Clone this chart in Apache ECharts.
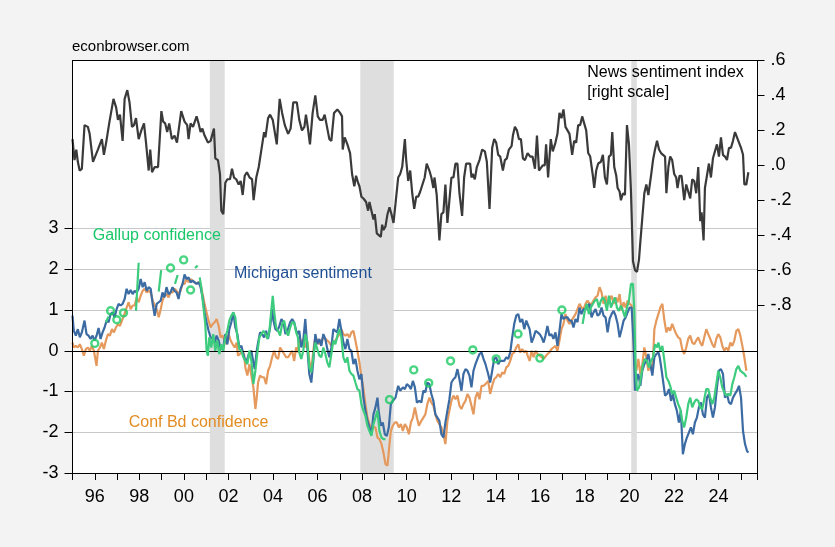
<!DOCTYPE html>
<html><head><meta charset="utf-8">
<script src="https://cdn.jsdelivr.net/npm/echarts/dist/echarts.min.js"></script>
<style>html,body{margin:0;padding:0;background:#f3f3f3;}#c{width:835px;height:547px;}</style>
</head><body><div id="c"></div>
<script>
// ---- data (decimal year, value) ----
const recessions = [[2001.167, 2001.833], [2007.917, 2009.42], [2020.083, 2020.333]];

const newsSentiment = [
[1995.0,0.15],[1995.09,0.03],[1995.17,0.09],[1995.24,0.02],[1995.32,-0.03],[1995.42,-0.02],[1995.54,0.23],[1995.69,0.22],[1995.77,0.18],[1995.92,0.02],[1996.14,0.09],[1996.32,0.15],[1996.41,0.06],[1996.51,0.13],[1996.66,0.25],[1996.74,0.24],[1996.84,0.38],[1996.96,0.33],[1997.04,0.26],[1997.13,0.29],[1997.25,0.14],[1997.34,0.38],[1997.46,0.43],[1997.56,0.36],[1997.67,0.22],[1997.76,0.23],[1997.85,0.27],[1997.97,0.15],[1998.09,0.20],[1998.21,0.24],[1998.30,0.13],[1998.42,-0.03],[1998.49,0.09],[1998.57,-0.04],[1998.69,-0.01],[1998.84,-0.01],[1998.99,0.31],[1999.07,0.25],[1999.16,0.24],[1999.25,0.19],[1999.34,0.24],[1999.46,0.15],[1999.58,0.17],[1999.69,0.13],[1999.88,0.31],[2000.03,0.25],[2000.15,0.23],[2000.21,0.15],[2000.30,0.24],[2000.41,0.22],[2000.48,0.23],[2000.57,0.28],[2000.66,0.24],[2000.75,0.19],[2000.83,0.21],[2000.93,0.17],[2001.08,0.13],[2001.20,0.14],[2001.35,0.21],[2001.41,0.04],[2001.53,0.03],[2001.62,-0.05],[2001.68,-0.26],[2001.77,-0.28],[2001.86,-0.10],[2001.95,-0.08],[2002.07,-0.08],[2002.16,-0.02],[2002.25,-0.07],[2002.35,-0.08],[2002.46,-0.11],[2002.55,-0.09],[2002.64,-0.17],[2002.73,-0.06],[2002.83,-0.04],[2002.95,-0.07],[2003.06,-0.08],[2003.13,-0.20],[2003.25,-0.07],[2003.36,-0.01],[2003.48,0.09],[2003.60,0.19],[2003.66,0.16],[2003.78,0.27],[2003.87,0.29],[2003.99,0.26],[2004.08,0.19],[2004.17,0.12],[2004.30,0.38],[2004.41,0.30],[2004.53,0.23],[2004.68,0.18],[2004.79,0.21],[2004.91,0.36],[2005.07,0.36],
[2005.18,0.26],[2005.30,0.20],[2005.41,0.22],[2005.48,0.29],[2005.56,0.22],[2005.66,0.12],[2005.78,0.30],[2005.90,0.40],[2006.01,0.28],[2006.11,0.26],[2006.23,0.26],[2006.32,0.29],[2006.41,0.23],[2006.53,0.15],[2006.62,0.14],[2006.74,0.30],[2006.89,0.32],[2007.01,0.30],[2007.10,0.28],[2007.13,0.09],[2007.22,0.16],[2007.34,0.12],[2007.46,0.07],[2007.55,-0.05],[2007.65,-0.12],[2007.73,-0.06],[2007.82,-0.10],[2007.88,-0.12],[2007.97,-0.18],[2008.06,-0.19],[2008.18,-0.21],[2008.27,-0.26],[2008.33,-0.21],[2008.42,-0.26],[2008.51,-0.31],[2008.57,-0.28],[2008.66,-0.39],[2008.75,-0.40],[2008.84,-0.41],[2008.90,-0.34],[2008.96,-0.37],[2009.05,-0.35],[2009.14,-0.28],[2009.23,-0.24],[2009.32,-0.28],[2009.41,-0.33],[2009.50,-0.22],[2009.62,-0.07],[2009.71,-0.05],[2009.80,-0.01],[2009.92,0.15],[2009.98,0.03],[2010.07,-0.09],[2010.16,-0.03],[2010.25,-0.16],[2010.34,-0.25],[2010.43,-0.18],[2010.52,-0.18],[2010.61,-0.15],[2010.69,-0.14],[2010.81,-0.07],[2010.90,0.01],[2011.02,-0.03],[2011.11,-0.07],[2011.20,-0.13],[2011.25,-0.07],[2011.35,-0.17],[2011.47,-0.43],[2011.56,-0.28],[2011.65,-0.27],[2011.74,-0.11],[2011.83,-0.33],[2011.92,-0.20],[2012.01,-0.07],[2012.10,-0.07],[2012.19,0.01],[2012.28,0.01],[2012.37,-0.16],[2012.49,-0.29],[2012.58,-0.07],[2012.67,0.01],[2012.76,0.01],[2012.85,0.01],[2012.91,-0.07],[2012.97,-0.05],[2013.06,-0.08],[2013.15,-0.01],[2013.27,0.03],[2013.39,0.09],[2013.51,0.08],[2013.60,0.02],[2013.72,-0.25],[2013.84,0.10],[2013.93,0.15],[2014.02,0.13],[2014.11,0.06],[2014.20,0.05],[2014.32,-0.03],[2014.41,0.03],[2014.50,0.04],[2014.59,0.09],[2014.71,0.11],[2014.77,0.17],[2014.86,0.22],[2014.95,0.20],[2015.04,0.15],[2015.13,0.15],[2015.22,0.04],[2015.31,0.03],
[2015.43,0.07],[2015.55,0.05],[2015.65,0.05],[2015.76,-0.02],[2015.85,0.17],[2015.94,-0.03],[2016.02,-0.02],[2016.11,0.00],[2016.20,0.00],[2016.26,0.12],[2016.35,-0.07],[2016.47,0.15],[2016.56,0.08],[2016.68,0.13],[2016.77,0.18],[2016.86,0.30],[2016.95,0.27],[2017.04,0.32],[2017.13,0.22],[2017.22,0.20],[2017.31,0.18],[2017.43,0.06],[2017.52,0.14],[2017.61,0.13],[2017.70,0.23],[2017.79,0.23],[2017.88,0.28],[2017.97,0.24],[2018.06,0.20],[2018.15,0.07],[2018.24,0.05],[2018.36,-0.06],[2018.42,-0.13],[2018.51,-0.03],[2018.60,0.01],[2018.72,0.02],[2018.81,0.06],[2018.90,-0.07],[2018.99,-0.11],[2019.08,0.05],[2019.17,0.06],[2019.23,0.19],[2019.32,-0.01],[2019.41,-0.06],[2019.47,-0.13],[2019.56,-0.15],[2019.62,-0.20],[2019.71,-0.16],[2019.80,-0.17],[2019.89,0.23],[2019.98,0.12],[2020.07,-0.15],[2020.16,-0.55],[2020.25,-0.60],[2020.34,-0.61],[2020.43,-0.54],[2020.49,-0.44],[2020.58,-0.30],[2020.67,-0.16],[2020.76,-0.11],[2020.85,-0.17],[2020.97,-0.06],[2021.06,0.03],[2021.15,0.09],[2021.24,0.14],[2021.33,0.09],[2021.42,0.07],[2021.51,0.06],[2021.60,0.05],[2021.66,-0.16],[2021.75,-0.01],[2021.83,0.05],[2021.92,0.03],[2022.01,-0.05],[2022.10,-0.07],[2022.16,-0.13],[2022.25,-0.06],[2022.34,-0.06],[2022.40,-0.13],[2022.46,-0.20],[2022.55,-0.11],[2022.64,-0.15],[2022.73,-0.19],[2022.82,-0.08],[2022.91,-0.09],[2023.00,-0.16],[2023.09,-0.01],[2023.18,-0.32],[2023.24,-0.27],[2023.33,-0.43],[2023.39,-0.13],[2023.48,-0.06],[2023.57,0.01],[2023.66,-0.07],[2023.75,0.04],[2023.84,0.08],[2023.93,0.12],[2024.02,0.05],[2024.11,0.16],[2024.20,0.06],[2024.29,0.05],[2024.38,0.03],[2024.47,0.10],[2024.56,0.10],[2024.65,0.14],[2024.74,0.19],[2024.83,0.16],[2024.92,0.13],[2025.01,0.10],[2025.10,0.06],[2025.16,-0.11],[2025.25,-0.11],[2025.34,-0.04]
];

const michigan = [
[1995.0,0.86],[1995.06,0.49],[1995.15,0.37],[1995.24,0.53],[1995.33,0.33],[1995.42,0.45],[1995.54,0.74],[1995.63,0.41],[1995.72,0.37],[1995.81,0.29],[1995.90,0.37],[1995.99,0.25],[1996.08,0.37],[1996.17,0.56],[1996.26,0.29],[1996.35,0.45],[1996.44,0.57],[1996.53,0.74],[1996.62,0.70],[1996.71,0.90],[1996.80,0.94],[1996.89,0.82],[1996.98,1.02],[1997.07,1.15],[1997.16,1.11],[1997.25,1.15],[1997.34,1.27],[1997.43,1.52],[1997.52,1.39],[1997.61,1.49],[1997.70,1.39],[1997.79,1.47],[1997.88,1.43],[1997.97,1.52],[1998.06,1.76],[1998.15,1.56],[1998.24,1.68],[1998.33,1.47],[1998.42,1.56],[1998.51,1.52],[1998.60,1.15],[1998.69,0.86],[1998.78,1.15],[1998.87,1.19],[1998.96,1.23],[1999.04,1.43],[1999.13,1.31],[1999.22,1.56],[1999.31,1.39],[1999.40,1.43],[1999.49,1.56],[1999.58,1.47],[1999.67,1.43],[1999.76,1.27],[1999.85,1.52],[1999.94,1.64],[2000.03,1.87],[2000.12,1.76],[2000.21,1.80],[2000.30,1.68],[2000.39,1.72],[2000.48,1.68],[2000.57,1.64],[2000.66,1.68],[2000.75,1.56],[2000.84,1.31],[2000.93,0.94],[2001.02,0.70],[2001.11,0.49],[2001.20,0.33],[2001.29,0.29],[2001.38,0.20],[2001.47,0.37],[2001.56,0.25],[2001.65,0.04],[2001.77,0.08],[2001.86,0.41],[2001.95,0.16],[2002.04,0.53],[2002.13,0.70],[2002.22,0.94],[2002.31,0.57],[2002.40,0.41],[2002.49,0.08],[2002.58,0.12],[2002.67,-0.08],[2002.76,-0.25],[2002.85,-0.20],[2002.94,-0.04],[2003.03,0.00],[2003.12,-0.29],[2003.18,-0.45],[2003.27,0.00],[2003.33,0.20],[2003.42,0.45],[2003.51,0.41],[2003.60,0.33],[2003.69,0.49],[2003.78,0.29],[2003.87,0.57],[2003.96,1.02],[2004.02,0.74],[2004.11,0.53],[2004.20,0.49],[2004.29,0.61],[2004.38,0.78],[2004.47,0.70],[2004.56,0.41],[2004.65,0.49],[2004.77,0.70],[2004.86,0.78],[2004.95,0.70],[2005.04,0.49],[2005.12,0.41],
[2005.18,0.49],[2005.27,0.08],[2005.36,0.25],[2005.45,0.78],[2005.54,0.08],[2005.63,-0.57],[2005.72,-0.78],[2005.81,-0.25],[2005.90,0.41],[2005.99,0.16],[2006.08,0.29],[2006.17,0.12],[2006.26,0.41],[2006.35,0.29],[2006.44,0.04],[2006.53,-0.16],[2006.62,0.08],[2006.71,0.53],[2006.80,0.49],[2006.89,0.45],[2006.98,0.78],[2007.07,0.49],[2007.16,0.20],[2007.25,0.04],[2007.34,0.29],[2007.43,0.04],[2007.52,0.00],[2007.61,-0.33],[2007.70,-0.20],[2007.79,-0.49],[2007.88,-0.70],[2007.97,-0.57],[2008.06,-1.15],[2008.15,-1.47],[2008.24,-1.72],[2008.33,-1.88],[2008.42,-2.05],[2008.51,-1.56],[2008.60,-1.39],[2008.69,-1.15],[2008.75,-1.51],[2008.84,-1.84],[2008.93,-1.76],[2009.02,-2.05],[2009.11,-2.09],[2009.20,-1.88],[2009.29,-1.31],[2009.38,-1.23],[2009.50,-1.15],[2009.62,-0.86],[2009.71,-0.98],[2009.83,-0.90],[2009.92,-0.94],[2010.01,-0.82],[2010.10,-0.86],[2010.19,-0.94],[2010.28,-0.74],[2010.37,-0.90],[2010.46,-1.27],[2010.57,-1.23],[2010.66,-1.27],[2010.75,-0.98],[2010.84,-1.02],[2010.93,-0.78],[2011.02,-0.82],[2011.11,-1.06],[2011.20,-1.23],[2011.29,-1.56],[2011.38,-1.64],[2011.47,-1.72],[2011.56,-2.05],[2011.65,-2.13],[2011.74,-1.76],[2011.83,-1.47],[2011.92,-1.19],[2012.01,-0.78],[2012.10,-0.70],[2012.19,-0.65],[2012.28,-0.45],[2012.37,-0.70],[2012.46,-0.98],[2012.55,-0.57],[2012.64,-0.45],[2012.73,-0.49],[2012.82,-0.61],[2012.91,-0.90],[2013.00,-0.49],[2013.09,-0.33],[2013.18,-0.20],[2013.27,-0.08],[2013.36,-0.04],[2013.45,-0.20],[2013.54,-0.33],[2013.66,-0.57],[2013.75,-0.78],[2013.84,-0.49],[2013.93,-0.20],[2014.02,-0.16],[2014.11,-0.33],[2014.20,-0.25],[2014.29,-0.25],[2014.38,-0.25],[2014.47,-0.16],[2014.56,-0.20],[2014.65,-0.04],[2014.74,0.33],[2014.83,0.66],[2014.92,0.86],[2015.01,0.90],[2015.10,0.70],[2015.19,0.78],[2015.28,0.53],[2015.37,0.74],
[2015.43,0.74],[2015.52,0.53],[2015.61,0.20],[2015.70,0.33],[2015.79,0.49],[2015.88,0.45],[2015.97,0.41],[2016.06,0.33],[2016.15,0.20],[2016.23,0.37],[2016.32,0.61],[2016.41,0.37],[2016.50,0.41],[2016.59,0.29],[2016.68,0.45],[2016.77,0.12],[2016.86,0.49],[2016.95,0.90],[2017.04,0.78],[2017.13,0.82],[2017.22,0.82],[2017.31,0.74],[2017.40,0.74],[2017.49,0.57],[2017.58,0.78],[2017.67,0.70],[2017.76,1.06],[2017.85,0.90],[2017.94,1.02],[2018.03,1.02],[2018.12,1.06],[2018.21,1.15],[2018.30,0.82],[2018.39,0.94],[2018.48,1.02],[2018.57,0.86],[2018.66,0.90],[2018.75,1.06],[2018.84,0.86],[2018.93,0.82],[2019.02,0.45],[2019.11,0.78],[2019.20,0.90],[2019.29,0.98],[2019.38,0.86],[2019.47,0.66],[2019.56,0.33],[2019.65,0.53],[2019.74,0.74],[2019.83,0.82],[2019.92,0.94],[2020.01,1.06],[2020.10,1.06],[2020.19,0.16],[2020.25,-0.98],[2020.31,-0.74],[2020.40,-0.57],[2020.49,-0.86],[2020.58,-0.49],[2020.67,-0.33],[2020.76,-0.25],[2020.85,-0.08],[2020.94,-0.33],[2021.03,-0.61],[2021.12,-0.16],[2021.21,-0.08],[2021.30,-0.04],[2021.36,-0.16],[2021.45,-0.49],[2021.51,-0.74],[2021.60,-1.10],[2021.69,-1.06],[2021.78,-0.94],[2021.87,-1.23],[2021.95,-1.06],[2022.04,-1.31],[2022.13,-1.47],[2022.22,-1.76],[2022.31,-1.47],[2022.40,-2.54],[2022.49,-2.29],[2022.58,-2.13],[2022.67,-2.01],[2022.76,-1.88],[2022.85,-2.05],[2022.94,-1.76],[2023.03,-1.64],[2023.12,-1.39],[2023.21,-1.27],[2023.30,-1.56],[2023.39,-1.64],[2023.48,-1.15],[2023.57,-1.06],[2023.66,-1.39],[2023.75,-1.64],[2023.84,-1.39],[2023.93,-0.90],[2024.02,-0.49],[2024.11,-0.45],[2024.20,-0.57],[2024.29,-1.15],[2024.38,-1.06],[2024.47,-1.27],[2024.56,-1.31],[2024.65,-1.15],[2024.74,-1.06],[2024.83,-0.98],[2024.92,-0.86],[2025.01,-1.15],[2025.10,-1.97],[2025.19,-2.29],[2025.28,-2.46],[2025.34,-2.50]
];

const confBoard = [
[1995.0,0.20],[1995.06,0.08],[1995.15,0.12],[1995.24,0.08],[1995.33,0.16],[1995.42,0.04],[1995.51,-0.12],[1995.60,0.04],[1995.69,0.08],[1995.78,0.00],[1995.87,0.12],[1995.96,0.00],[1996.02,-0.04],[1996.08,-0.37],[1996.14,0.00],[1996.23,0.08],[1996.32,0.20],[1996.41,0.04],[1996.50,0.25],[1996.59,0.41],[1996.68,0.37],[1996.77,0.53],[1996.86,0.45],[1996.95,0.57],[1997.04,0.65],[1997.13,0.61],[1997.22,0.74],[1997.31,0.86],[1997.43,1.06],[1997.52,1.19],[1997.61,1.02],[1997.70,1.11],[1997.79,1.11],[1997.88,1.31],[1997.97,1.19],[1998.06,1.35],[1998.15,1.47],[1998.24,1.52],[1998.33,1.43],[1998.42,1.47],[1998.51,1.43],[1998.60,1.23],[1998.69,1.11],[1998.78,1.02],[1998.87,0.82],[1998.96,1.02],[1999.04,1.23],[1999.13,1.35],[1999.22,1.39],[1999.31,1.31],[1999.40,1.43],[1999.49,1.43],[1999.58,1.52],[1999.67,1.47],[1999.76,1.39],[1999.85,1.47],[1999.94,1.64],[2000.03,1.64],[2000.12,1.76],[2000.21,1.68],[2000.30,1.76],[2000.39,1.72],[2000.48,1.68],[2000.57,1.65],[2000.66,1.68],[2000.75,1.64],[2000.84,1.39],[2000.93,1.15],[2001.02,0.94],[2001.11,0.74],[2001.20,0.57],[2001.29,0.65],[2001.38,0.70],[2001.47,0.78],[2001.56,0.61],[2001.65,0.33],[2001.74,0.37],[2001.83,0.25],[2001.92,0.16],[2002.01,0.41],[2002.10,0.25],[2002.19,0.16],[2002.28,0.08],[2002.37,0.20],[2002.43,-0.12],[2002.52,-0.08],[2002.61,0.00],[2002.70,-0.08],[2002.76,-0.41],[2002.85,-0.61],[2002.94,-0.33],[2003.03,-0.61],[2003.12,-0.90],[2003.21,-1.43],[2003.27,-1.15],[2003.33,-0.78],[2003.42,-0.61],[2003.51,-0.65],[2003.60,-0.65],[2003.69,-0.82],[2003.78,-0.49],[2003.87,-0.37],[2003.96,-0.16],[2004.05,0.00],[2004.14,-0.16],[2004.23,-0.20],[2004.32,0.08],[2004.41,0.00],[2004.50,-0.08],[2004.59,-0.16],[2004.68,-0.16],[2004.77,-0.08],[2004.86,0.00],[2004.95,-0.25],[2005.04,0.08],[2005.12,-0.04],
[2005.18,0.33],[2005.27,0.20],[2005.36,0.29],[2005.45,0.08],[2005.54,0.25],[2005.63,-0.25],[2005.72,-0.49],[2005.81,0.00],[2005.90,0.33],[2005.99,0.25],[2006.08,0.16],[2006.17,0.25],[2006.26,0.33],[2006.35,0.29],[2006.44,0.25],[2006.53,0.20],[2006.62,0.12],[2006.71,0.20],[2006.80,0.25],[2006.89,0.33],[2006.98,0.41],[2007.07,0.53],[2007.16,0.41],[2007.25,0.37],[2007.34,0.41],[2007.43,0.33],[2007.52,0.45],[2007.61,0.49],[2007.70,0.25],[2007.79,0.00],[2007.88,-0.29],[2007.97,-0.65],[2008.06,-0.94],[2008.15,-1.31],[2008.24,-1.64],[2008.33,-1.80],[2008.42,-1.97],[2008.51,-1.88],[2008.60,-1.88],[2008.69,-2.13],[2008.78,-2.17],[2008.87,-2.29],[2008.96,-2.50],[2009.05,-2.78],[2009.14,-2.82],[2009.23,-2.29],[2009.29,-1.97],[2009.38,-1.84],[2009.47,-1.76],[2009.56,-1.76],[2009.65,-1.88],[2009.74,-1.80],[2009.83,-1.97],[2009.92,-1.80],[2010.01,-1.88],[2010.10,-2.05],[2010.19,-1.76],[2010.28,-1.64],[2010.37,-1.39],[2010.46,-1.64],[2010.55,-1.84],[2010.66,-1.72],[2010.75,-1.64],[2010.84,-1.56],[2010.93,-1.31],[2011.02,-1.15],[2011.11,-1.27],[2011.20,-1.35],[2011.29,-1.56],[2011.38,-1.72],[2011.47,-1.80],[2011.56,-1.88],[2011.65,-2.05],[2011.74,-2.29],[2011.83,-1.72],[2011.92,-1.47],[2012.01,-1.23],[2012.10,-1.10],[2012.19,-1.19],[2012.28,-1.10],[2012.37,-1.35],[2012.46,-1.43],[2012.55,-1.31],[2012.64,-1.23],[2012.73,-1.06],[2012.82,-1.15],[2012.91,-1.35],[2013.00,-1.56],[2013.09,-1.15],[2013.18,-1.02],[2013.27,-1.19],[2013.36,-0.86],[2013.45,-0.86],[2013.54,-0.82],[2013.66,-0.74],[2013.75,-1.06],[2013.84,-0.86],[2013.93,-0.70],[2014.02,-0.65],[2014.11,-0.57],[2014.20,-0.65],[2014.29,-0.53],[2014.38,-0.57],[2014.47,-0.41],[2014.56,-0.37],[2014.65,-0.25],[2014.74,-0.08],[2014.83,-0.04],[2014.92,0.08],[2015.01,0.16],[2015.10,-0.04],[2015.19,0.04],[2015.28,-0.04],[2015.37,0.00],
[2015.43,-0.12],[2015.52,-0.25],[2015.61,0.00],[2015.70,-0.16],[2015.79,0.00],[2015.88,-0.08],[2015.97,-0.12],[2016.06,-0.16],[2016.15,-0.20],[2016.23,-0.16],[2016.32,-0.08],[2016.41,-0.04],[2016.50,0.04],[2016.59,0.08],[2016.68,0.12],[2016.77,0.00],[2016.86,0.25],[2016.95,0.53],[2017.04,0.66],[2017.13,0.90],[2017.22,0.74],[2017.31,0.66],[2017.40,0.74],[2017.49,0.82],[2017.58,0.90],[2017.67,1.02],[2017.76,1.15],[2017.85,1.06],[2017.94,1.02],[2018.03,1.15],[2018.12,1.23],[2018.21,1.15],[2018.30,1.15],[2018.39,1.23],[2018.48,1.31],[2018.57,1.35],[2018.66,1.56],[2018.75,1.43],[2018.84,1.15],[2018.93,1.35],[2019.02,1.15],[2019.11,1.27],[2019.20,1.35],[2019.29,1.15],[2019.38,1.31],[2019.47,1.19],[2019.56,1.39],[2019.65,0.98],[2019.74,1.19],[2019.83,1.06],[2019.92,1.23],[2020.01,1.15],[2020.10,1.11],[2020.16,0.74],[2020.22,-0.33],[2020.31,-0.49],[2020.40,-0.20],[2020.49,-0.57],[2020.58,-0.33],[2020.67,0.08],[2020.76,-0.16],[2020.85,-0.49],[2020.94,-0.33],[2021.03,-0.53],[2021.12,0.53],[2021.21,0.74],[2021.30,0.90],[2021.39,1.06],[2021.48,1.15],[2021.57,0.74],[2021.66,0.45],[2021.75,0.57],[2021.83,0.49],[2021.92,0.66],[2022.01,0.53],[2022.10,0.41],[2022.19,0.33],[2022.28,0.29],[2022.37,0.04],[2022.46,-0.08],[2022.55,0.08],[2022.64,0.29],[2022.73,0.37],[2022.82,0.20],[2022.91,0.16],[2023.00,0.25],[2023.09,0.33],[2023.18,0.20],[2023.27,0.12],[2023.36,0.33],[2023.45,0.53],[2023.54,0.41],[2023.63,0.29],[2023.72,0.16],[2023.81,0.08],[2023.90,0.29],[2023.99,0.41],[2024.08,0.33],[2024.17,0.12],[2024.26,0.00],[2024.35,0.08],[2024.44,0.00],[2024.53,0.20],[2024.62,0.12],[2024.71,0.25],[2024.80,0.49],[2024.89,0.53],[2024.98,0.37],[2025.07,0.12],[2025.16,-0.16],[2025.25,-0.49]
];

const gallupSegments = [
[[1996.50,0.70],[1996.62,0.84]],
[[1997.85,0.98],[1997.97,2.16]],
[[1998.87,1.45],[1998.98,1.98]],
[[1999.60,1.64],[1999.72,1.86]],
[[2000.50,2.03],[2000.62,2.09]],
[[2000.71,1.80],[2000.78,1.56],[2000.87,1.11],[2000.96,0.66],[2001.02,0.00],[2001.08,-0.12],[2001.14,0.33],[2001.23,0.08],[2001.32,0.41],[2001.41,0.00],[2001.50,0.25],[2001.59,-0.08],[2001.68,0.16],[2001.77,0.00],[2001.86,0.33],[2001.95,0.49],[2002.04,0.74],[2002.13,0.86],[2002.22,0.94],[2002.31,0.82],[2002.40,0.33],[2002.49,0.04],[2002.58,0.00],[2002.67,-0.16],[2002.76,-0.25],[2002.85,-0.33],[2002.94,0.00],[2003.03,-0.25],[2003.12,-0.82],[2003.21,-0.49],[2003.30,-0.04],[2003.39,0.33],[2003.48,0.41],[2003.57,0.49],[2003.66,0.41],[2003.75,0.29],[2003.84,0.49],[2003.93,1.02],[2003.99,1.35],[2004.05,0.98],[2004.14,0.57],[2004.23,0.49],[2004.32,0.37],[2004.41,0.66],[2004.50,0.74],[2004.59,0.49],[2004.68,0.37],[2004.77,0.57],[2004.86,0.70],[2004.95,0.70],[2005.04,0.45],[2005.12,0.33],
 [2005.18,-0.04],[2005.27,-0.20],[2005.36,0.00],[2005.45,0.41],[2005.54,0.20],[2005.63,-0.41],[2005.72,-0.53],[2005.81,-0.16],[2005.90,0.20],[2005.99,0.04],[2006.08,-0.12],[2006.17,-0.16],[2006.26,0.08],[2006.35,-0.08],[2006.44,-0.29],[2006.53,-0.41],[2006.62,-0.08],[2006.71,0.25],[2006.80,0.16],[2006.89,0.37],[2006.98,0.53],[2007.07,0.33],[2007.16,-0.16],[2007.25,-0.29],[2007.34,-0.16],[2007.43,-0.49],[2007.52,-0.57],[2007.61,-0.61],[2007.70,-0.78],[2007.79,-0.94],[2007.88,-0.98],[2007.97,-1.31],[2008.06,-1.47],[2008.15,-1.60],[2008.24,-1.84],[2008.33,-1.97],[2008.42,-2.09],[2008.51,-1.80],[2008.60,-1.64],[2008.69,-1.47],[2008.78,-1.97],[2008.87,-2.13],[2008.96,-2.17],[2009.05,-2.17]],
[[2017.90,0.66],[2018.00,0.98],[2018.09,1.15],[2018.18,0.90],[2018.27,1.06],[2018.36,1.15],[2018.45,1.23],[2018.54,1.27],[2018.63,1.06],[2018.72,1.23],[2018.81,1.31],[2018.90,1.23],[2018.99,0.98],[2019.08,1.35],[2019.17,1.06],[2019.26,1.19],[2019.35,1.31],[2019.44,1.06],[2019.53,0.98],[2019.62,1.11],[2019.71,0.98],[2019.80,0.82],[2019.89,1.06],[2019.98,1.23],[2020.07,1.64],[2020.16,1.64],[2020.22,0.98],[2020.28,-0.49],[2020.34,-0.98],[2020.43,-0.90],[2020.52,-0.65],[2020.61,-0.33],[2020.70,-0.20],[2020.79,-0.25],[2020.88,-0.41],[2020.97,-0.25],[2021.06,-0.16],[2021.15,0.16],[2021.24,0.08],[2021.30,0.20],[2021.39,0.00],[2021.48,0.12],[2021.57,-0.25],[2021.66,-0.65],[2021.75,-0.74],[2021.83,-0.86],[2021.92,-1.06],[2022.01,-0.98],[2022.10,-1.15],[2022.19,-1.31],[2022.28,-1.43],[2022.37,-1.72],[2022.46,-1.88],[2022.55,-1.64],[2022.64,-1.31],[2022.73,-1.15],[2022.82,-1.39],[2022.91,-1.27],[2023.00,-1.19],[2023.09,-1.23],[2023.18,-1.39],[2023.27,-1.43],[2023.36,-1.19],[2023.45,-0.94],[2023.54,-0.94],[2023.63,-1.15],[2023.72,-1.31],[2023.81,-1.15],[2023.90,-0.82],[2023.99,-0.49],[2024.08,-0.65],[2024.17,-0.90],[2024.26,-1.02],[2024.35,-1.10],[2024.44,-1.06],[2024.53,-1.10],[2024.62,-0.82],[2024.71,-0.65],[2024.80,-0.45],[2024.89,-0.37],[2024.98,-0.49],[2025.07,-0.53],[2025.16,-0.57],[2025.25,-0.64]]
];

const gallupPoints = [
[1996.00,0.18],[1996.71,0.98],[1996.99,0.76],[1997.29,0.93],[1999.40,2.03],[1999.99,2.23],[2000.30,1.49],
[2009.23,-1.20],[2010.32,-0.47],[2010.99,-0.79],[2011.97,-0.25],[2012.97,0.02],[2014.02,-0.20],[2015.00,0.41],[2015.98,-0.18],[2016.97,1.00]
];

const xMin = 1995, xMax = 2025.75;
const leftAxis = {min: -3, max: 3, step: 1};
const rightAxis = {min: -0.8, max: 0.6, step: 0.2};

// ---- build ----
const gallupLine = [];
gallupSegments.forEach((seg, i) => {
  if (i > 0) gallupLine.push(null);
  seg.forEach(p => gallupLine.push(p));
});

const FONT = 'Liberation Sans, Arial, sans-serif';
const L = 72.5, R = 77.5;

const chart = echarts.init(document.getElementById('c'), null, {renderer: 'canvas'});
chart.setOption({
  animation: false,
  backgroundColor: '#f3f3f3',
  grid: [
    {left: L, right: R, top: 60.5, bottom: 74, show: true, backgroundColor: '#fff', borderWidth: 0, outerBoundsMode: 'none', containLabel: false},
    {left: L, right: R, top: 60.5, bottom: 242, outerBoundsMode: 'none', containLabel: false},
    {left: L, right: R, top: 228.5, bottom: 74, outerBoundsMode: 'none', containLabel: false}
  ],
  xAxis: [
    {gridIndex: 0, type: 'value', position: 'bottom', min: xMin, max: xMax, interval: 1, z: 10,
     axisLine: {show: true, onZero: false, lineStyle: {color: '#000', width: 1}},
     axisTick: {show: true, inside: false, length: 7, lineStyle: {color: '#000'}},
     axisLabel: {show: true, margin: 15, color: '#000', fontSize: 18, fontFamily: FONT,
       formatter: v => (Math.round(v) === v && v % 2 === 0) ? String(v).slice(2) : ''},
     splitLine: {show: false}},
    {gridIndex: 0, type: 'value', position: 'top', min: xMin, max: xMax, z: 10,
     axisLine: {show: true, onZero: false, lineStyle: {color: '#000', width: 1}},
     axisTick: {show: false}, axisLabel: {show: false}, splitLine: {show: false}},
    {gridIndex: 1, type: 'value', min: xMin, max: xMax, show: false},
    {gridIndex: 2, type: 'value', min: xMin, max: xMax, show: false}
  ],
  yAxis: [
    {gridIndex: 0, type: 'value', position: 'left', min: 0, max: 1, z: 10,
     axisLine: {show: true, onZero: false, lineStyle: {color: '#000', width: 1}},
     axisTick: {show: false}, axisLabel: {show: false}, splitLine: {show: false}},
    {gridIndex: 0, type: 'value', position: 'right', min: 0, max: 1, z: 10,
     axisLine: {show: true, onZero: false, lineStyle: {color: '#000', width: 1}},
     axisTick: {show: false}, axisLabel: {show: false}, splitLine: {show: false}},
    {gridIndex: 1, type: 'value', position: 'right', min: rightAxis.min, max: rightAxis.max, interval: rightAxis.step,
     axisLine: {show: false},
     axisTick: {show: true, inside: false, length: 7, lineStyle: {color: '#000'}},
     axisLabel: {show: true, margin: 13, color: '#000', fontSize: 18, fontFamily: FONT,
       formatter: v => (Math.round(v * 10) / 10).toFixed(1).replace('0.', '.')},
     splitLine: {show: false}},
    {gridIndex: 2, type: 'value', position: 'left', min: leftAxis.min, max: leftAxis.max, interval: leftAxis.step,
     axisLine: {show: false},
     axisTick: {show: true, inside: false, length: 8, lineStyle: {color: '#000'}},
     axisLabel: {show: true, margin: 14, color: '#000', fontSize: 18, fontFamily: FONT},
     splitLine: {show: true, lineStyle: {color: '#c8c8c8', width: 1}}}
  ],
  series: [
    {type: 'line', xAxisIndex: 0, yAxisIndex: 0, data: [], z: 1, silent: true,
     markArea: {silent: true, itemStyle: {color: '#dedede'},
       data: recessions.map(r => [{xAxis: r[0]}, {xAxis: r[1]}])}},
    {type: 'line', xAxisIndex: 3, yAxisIndex: 3, data: [], z: 2, silent: true,
     markLine: {silent: true, symbol: 'none', label: {show: false},
       lineStyle: {color: '#000', width: 1, type: 'solid'}, data: [{yAxis: 0}]}},
    {name: 'Conf Bd', type: 'line', xAxisIndex: 3, yAxisIndex: 3, data: confBoard, z: 3,
     showSymbol: false, lineStyle: {color: '#e5995c', width: 2.2}, itemStyle: {color: '#e5995c'}},
    {name: 'Michigan', type: 'line', xAxisIndex: 3, yAxisIndex: 3, data: michigan, z: 4,
     showSymbol: false, lineStyle: {color: '#3b6ba2', width: 2.2}, itemStyle: {color: '#3b6ba2'}},
    {name: 'Gallup', type: 'line', xAxisIndex: 3, yAxisIndex: 3, data: gallupLine, z: 5,
     connectNulls: false, showSymbol: false, lineStyle: {color: '#3dcc7e', width: 2.2}, itemStyle: {color: '#3dcc7e'}},
    {name: 'Gallup pts', type: 'scatter', xAxisIndex: 3, yAxisIndex: 3, data: gallupPoints, z: 6,
     symbol: 'circle', symbolSize: 7, itemStyle: {color: 'rgba(255,255,255,0)', borderColor: '#1ccb62', borderWidth: 2.4}},
    {name: 'News', type: 'line', xAxisIndex: 2, yAxisIndex: 2, data: newsSentiment, z: 3,
     showSymbol: false, lineStyle: {color: '#3a3a3a', width: 2.2}, itemStyle: {color: '#3a3a3a'}}
  ],
  graphic: [
    {type: 'text', z: 100, left: 72, top: 39.5, style: {text: 'econbrowser.com', fill: '#000', font: '15px ' + FONT}},
    {type: 'text', z: 100, left: 92.7, top: 227.2, style: {text: 'Gallup confidence', fill: '#19c86a', font: '16px ' + FONT}},
    {type: 'text', z: 100, left: 234, top: 265.5, style: {text: 'Michigan sentiment', fill: '#1f4f93', font: '16px ' + FONT}},
    {type: 'text', z: 100, left: 128.7, top: 414.2, style: {text: 'Conf Bd confidence', fill: '#e38c22', font: '16px ' + FONT}},
    {type: 'text', z: 100, left: 587.3, top: 64.8, style: {text: 'News sentiment index', fill: '#000', font: '16px ' + FONT}},
    {type: 'text', z: 100, left: 587.3, top: 84.8, style: {text: '[right scale]', fill: '#000', font: '16px ' + FONT}}
  ]
});
</script></body></html>
